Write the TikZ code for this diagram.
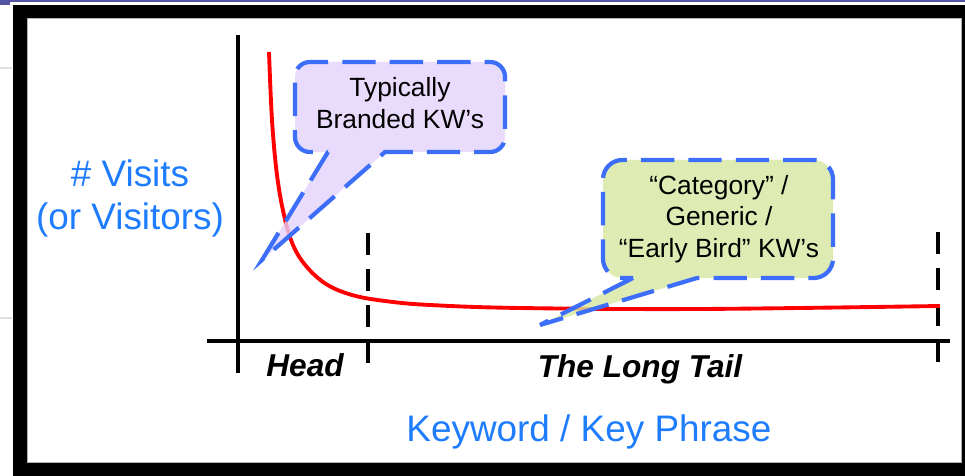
\documentclass[tikz,border=0pt]{standalone}
\usepackage{fontspec}
\setmainfont{Liberation Sans}
\definecolor{labelblue}{RGB}{30,125,255}
\definecolor{dashblue}{RGB}{60,110,250}
\definecolor{brandfill}{RGB}{228,210,250}
\definecolor{genericfill}{RGB}{214,232,160}
\definecolor{topnavy}{RGB}{85,85,165}
\tikzset{
  axisline/.style={line width=2.1pt},
  tailmark/.style={line width=2.7pt, dash pattern=on 12.5pt off 8pt},
  bubble/.style={draw=dashblue, line width=2.4pt, dash pattern=on 19pt off 8pt, fill opacity=.8},
  bubbletext/.style={align=center, font=\fontsize{15pt}{18pt}\selectfont},
  axislabel/.style={labelblue, align=center, font=\fontsize{21pt}{24.5pt}\selectfont},
  parttext/.style={anchor=base, font=\bfseries\itshape\fontsize{18pt}{20pt}\selectfont}
}
\begin{document}
\begin{tikzpicture}[x=0.02cm, y=-0.02cm]
    \useasboundingbox (0,0) rectangle (965,476);
    % Rahmen
    \fill[topnavy] (0,0) rectangle (965,2);
    \fill[topnavy] (0,0) rectangle (10,5);
    \draw[gray!25, line width=1pt] (0,68)--(12,68) (0,318)--(12,318);
    \fill[black] (13,5) rectangle (965,476);
    \fill[white] (27,18) rectangle (961,462);
    \draw[gray!60, line width=0.5pt] (27,18) rectangle (961,462);
    % Achsen
    \draw[axisline] (238,35)--(238,373);
    \draw[axisline] (207,341)--(950,341);
    \draw[tailmark] (368,233)--(368,368);
    \draw[tailmark] (938,232)--(938,365);
    % Kurve
    \draw[red, line width=2.2pt] plot[smooth, tension=0.6] coordinates {(269,52) (272,120) (277,175) (284,215) (293,245) (306,266) (326,284) (352,295) (385,301) (430,305) (520,308) (700,309) (940,306)};
    % Sprechblasen
    \draw[bubble, fill=brandfill] (328,152)--(262,260)--(385,152) [rounded corners=8.5pt] --(505,152)--(505,62)--(295,62)--(295,152)--(328,152);
    \draw[bubble, fill=genericfill] (633,278)--(540,325)--(697,278) [rounded corners=11pt] --(833,278)--(833,160)--(603,160)--(603,278)--(633,278);
    \node[bubbletext] (branded) at (400,103) {Typically\\Branded KW's};
    \node[bubbletext] (generic) at (719,219) {“Category” /\\Generic /\\“Early Bird” KW's};
    % Beschriftung
    \node[axislabel] (visits) at (130,198) {\# Visits\\(or Visitors)};
    \node[parttext] (head) at (305,377) {Head};
    \node[parttext] (tail) at (640,378) {The Long Tail};
    \node[axislabel, anchor=base] (keyword) at (589,442) {Keyword / Key Phrase};
\end{tikzpicture}
\end{document}
